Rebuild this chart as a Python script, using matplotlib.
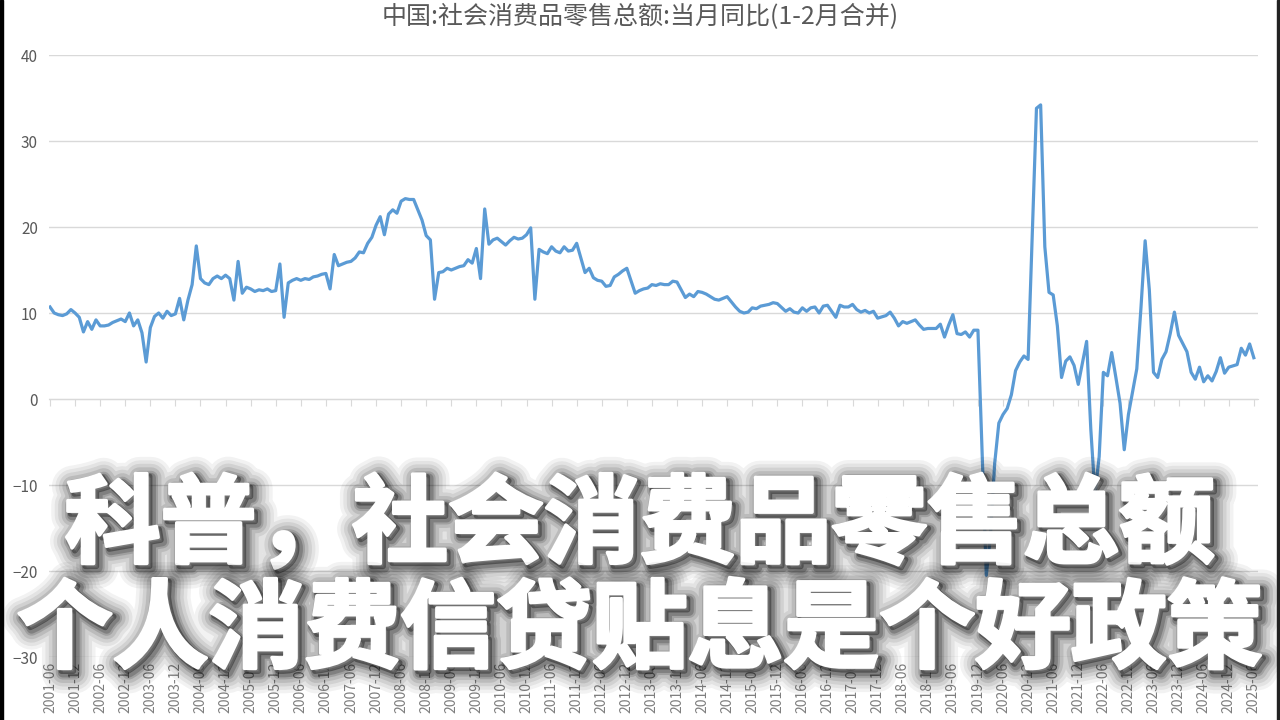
import matplotlib
matplotlib.use('Agg')
import matplotlib.pyplot as plt
import matplotlib.patheffects as pe
from matplotlib.patches import Rectangle
import numpy as np
import pandas as pd

plt.rcParams['font.family'] = ['Noto Sans CJK SC', 'DejaVu Sans']

title = '中国:社会消费品零售总额:当月同比(1-2月合并)'
caption1 = '科普，社会消费品零售总额'
caption2 = '个人消费信贷贴息是个好政策'

# monthly YoY %, 2001-06 .. 2025-06 ; None = January merged into Feb (from 2012)
start_month = '2001-06'
end_month = '2025-06'
yoy = [
    10.7, 10.0, 9.8, 9.7, 9.9, 10.4, 10.0,                           # 2001 Jun-Dec
    9.5, 7.8, 9.0, 8.1, 9.2, 8.5, 8.5, 8.6, 8.9, 9.1, 9.3, 9.0,      # 2002
    10.0, 8.5, 9.2, 7.7, 4.3, 8.3, 9.6, 10.0, 9.4, 10.2, 9.7, 9.9,   # 2003
    11.7, 9.2, 11.5, 13.3, 17.8, 14.0, 13.5, 13.3, 14.0, 14.3, 14.0, 14.4,  # 2004
    14.0, 11.5, 16.0, 12.3, 13.0, 12.8, 12.5, 12.7, 12.6, 12.8, 12.5, 12.6,  # 2005
    15.7, 9.5, 13.5, 13.8, 14.0, 13.8, 14.0, 13.9, 14.2, 14.3, 14.5, 14.6,   # 2006
    12.8, 16.8, 15.5, 15.7, 15.9, 16.0, 16.4, 17.1, 17.0, 18.1, 18.8, 20.2,  # 2007
    21.2, 19.1, 21.5, 22.0, 21.6, 23.0, 23.3, 23.2, 23.2, 22.0, 20.8, 19.0,  # 2008
    18.5, 11.6, 14.7, 14.8, 15.2, 15.0, 15.2, 15.4, 15.5, 16.2, 15.8, 17.5,  # 2009
    14.0, 22.1, 18.0, 18.5, 18.7, 18.3, 17.9, 18.4, 18.8, 18.6, 18.7, 19.1,  # 2010
    19.9, 11.6, 17.4, 17.1, 16.9, 17.7, 17.2, 17.0, 17.7, 17.2, 17.3, 18.1,  # 2011
    None, 14.7, 15.2, 14.1, 13.8, 13.7, 13.1, 13.2, 14.2, 14.5, 14.9, 15.2,  # 2012
    None, 12.3, 12.6, 12.8, 12.9, 13.3, 13.2, 13.4, 13.3, 13.3, 13.7, 13.6,  # 2013
    None, 11.8, 12.2, 11.9, 12.5, 12.4, 12.2, 11.9, 11.6, 11.5, 11.7, 11.9,  # 2014
    None, 10.7, 10.2, 10.0, 10.1, 10.6, 10.5, 10.8, 10.9, 11.0, 11.2, 11.1,  # 2015
    None, 10.2, 10.5, 10.1, 10.0, 10.6, 10.2, 10.6, 10.7, 10.0, 10.8, 10.9,  # 2016
    None, 9.5, 10.9, 10.7, 10.7, 11.0, 10.4, 10.1, 10.3, 10.0, 10.2, 9.4,    # 2017
    None, 9.7, 10.1, 9.4, 8.5, 9.0, 8.8, 9.0, 9.2, 8.6, 8.1, 8.2,            # 2018
    None, 8.2, 8.7, 7.2, 8.6, 9.8, 7.6, 7.5, 7.8, 7.2, 8.0, 8.0,             # 2019
    None, -20.5, -15.8, -7.5, -2.8, -1.8, -1.1, 0.5, 3.3, 4.3, 5.0, 4.6,     # 2020
    None, 33.8, 34.2, 17.7, 12.4, 12.1, 8.5, 2.5, 4.4, 4.9, 3.9, 1.7,        # 2021
    None, 6.7, -3.5, -11.1, -6.7, 3.1, 2.7, 5.4, 2.5, -0.5, -5.9, -1.8,      # 2022
    None, 3.5, 10.6, 18.4, 12.7, 3.1, 2.5, 4.6, 5.5, 7.6, 10.1, 7.4,         # 2023
    None, 5.5, 3.1, 2.3, 3.7, 2.0, 2.7, 2.1, 3.2, 4.8, 3.0, 3.7,             # 2024
    None, 4.0, 5.9, 5.1, 6.4, 4.8,                                           # 2025
]
y_ticks = [-30, -20, -10, 0, 10, 20, 30, 40]

months = pd.period_range(start_month, end_month, freq='M')
vals = pd.Series(yoy, dtype=float)
pos = np.arange(len(months))
ok = vals.notna().values
tick_pos = pos[::6]
tick_lbl = [m.strftime('%Y-%m') for m in months[::6]]

fig = plt.figure(figsize=(12.8, 7.2), dpi=100)
fig.patch.set_facecolor('white')
ax = fig.add_axes([49 / 1280, 1 - 657 / 720, 1209 / 1280, 602 / 720])

ax.plot(pos[ok], vals[ok], color='#5B9BD5', lw=2.3, solid_joinstyle='round', zorder=3)

ax.set_ylim(-30, 40)
ax.set_xlim(-0.24, 289.0)
ax.yaxis.grid(True, color='#D9D9D9', lw=1)
ax.set_axisbelow(True)
for s in ['top', 'right', 'left']:
    ax.spines[s].set_visible(False)
ax.spines['bottom'].set_position(('data', 0))
ax.spines['bottom'].set_color('#D9D9D9')

ax.set_yticks(y_ticks)
ax.set_xticks(tick_pos)
ax.set_xticklabels(tick_lbl)
ax.tick_params(axis='x', direction='out', length=5, color='#D9D9D9', pad=184,
               labelrotation=90, labelsize=10, labelcolor='#7F7F7F')
ax.tick_params(axis='y', length=0, pad=8, labelsize=11, labelcolor='#595959')
for lbl in ax.get_xticklabels():
    lbl.set_va('top')

fig.text(0.5, 1 - 17 / 720, title, ha='center', va='center', fontsize=18, color='#595959')

# soft dark shadow round the white caption, plus a white stroke to fatten the glyphs
glow = [pe.Stroke(linewidth=w, foreground='black', alpha=a, offset=(3, -3))
        for w, a in [(30, 0.05), (25, 0.06), (20, 0.08), (15, 0.1), (10, 0.14), (7, 0.2)]]
glow += [pe.Stroke(linewidth=4, foreground='black', alpha=0.35, offset=(2, -2)),
         pe.Stroke(linewidth=2.5, foreground='white'), pe.Normal()]
fig.text(0.5, 1 - 527 / 720, caption1, ha='center', va='center', fontsize=69,
         fontweight='heavy', color='white', path_effects=glow, zorder=10)
fig.text(0.5, 1 - 632 / 720, caption2, ha='center', va='center', fontsize=69,
         fontweight='heavy', color='white', path_effects=glow, zorder=10)

# dark frame edges of the screenshot
fig.patches.append(Rectangle((0, 0), 3 / 1280, 1, transform=fig.transFigure,
                             color='black', zorder=20))
fig.patches.append(Rectangle((1 - 3 / 1280, 0), 3 / 1280, 1, transform=fig.transFigure,
                             color='#222222', zorder=20))

fig.savefig('out.png', dpi=100)
